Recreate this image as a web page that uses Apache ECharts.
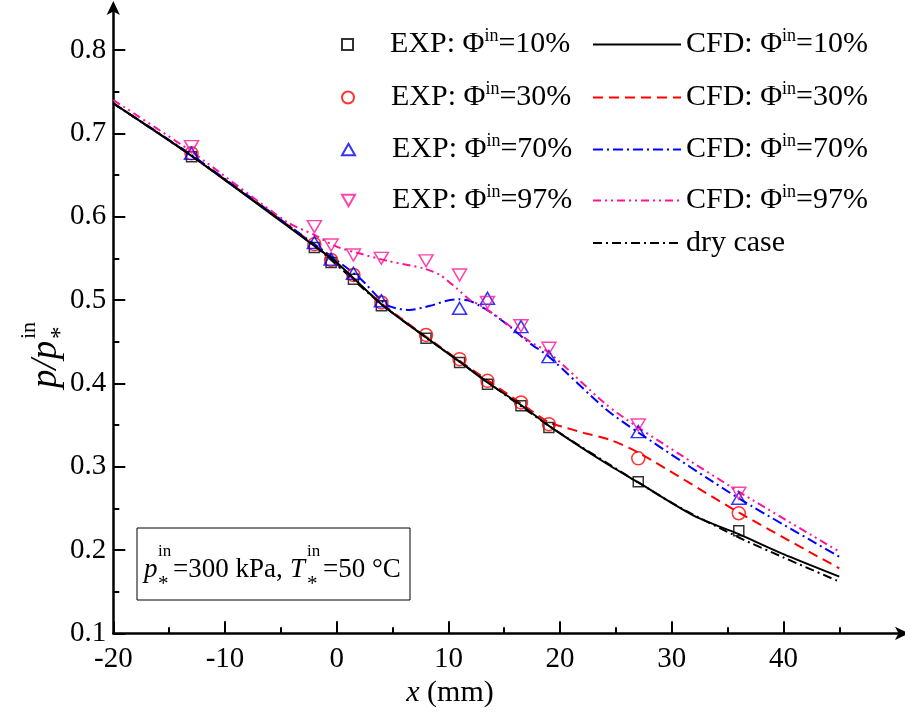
<!DOCTYPE html>
<html><head><meta charset="utf-8">
<script src="https://cdn.jsdelivr.net/npm/echarts@6/dist/echarts.min.js"></script>
<style>html,body{margin:0;padding:0;background:#fff}#c{width:905px;height:715px}</style>
</head><body><div id="c"></div>
<script>
// ---- data ----
const expX   = [-13, -2, -0.5, 1.5, 4, 8, 11, 13.5, 16.5, 19, 27, 36];
const exp10  = [0.672, 0.563, 0.545, 0.525, 0.493, 0.454, 0.425, 0.399, 0.373, 0.347, 0.282, 0.223];
const exp30  = [0.676, 0.567, 0.548, 0.530, 0.497, 0.458, 0.429, 0.403, 0.377, 0.351, 0.310, 0.244];
const exp70X = [-13, -2, -0.5, 1.5, 4, 11, 13.5, 16.5, 19, 27, 36];
const exp70  = [0.676, 0.569, 0.549, 0.532, 0.499, 0.490, 0.502, 0.468, 0.432, 0.342, 0.262];
const exp97  = [0.684, 0.588, 0.566, 0.554, 0.550, 0.547, 0.530, 0.497, 0.469, 0.442, 0.350, 0.268];

const cfd10X = [-20, -13, -2, 0, 4, 8, 11, 13.5, 16.5, 19, 24, 27, 32, 36, 40, 45];
const cfd10  = [0.736, 0.673, 0.565, 0.545, 0.495, 0.455, 0.426, 0.401, 0.374, 0.349, 0.305, 0.281, 0.241, 0.219, 0.195, 0.168];
const cfd30X = [-20, -13, -2, 4, 11, 16.5, 19, 20.2, 22, 24.5, 27, 36, 45];
const cfd30  = [0.736, 0.673, 0.566, 0.496, 0.427, 0.376, 0.353, 0.348, 0.341, 0.332, 0.317, 0.245, 0.178];
const cfd70X = [-20, -13, -2, 2, 4.5, 6.5, 8.35, 9.85, 11, 11.9, 12.8, 13.7, 15.5, 17.3, 19, 24, 27, 36, 45];
const cfd70  = [0.736, 0.674, 0.567, 0.527, 0.494, 0.488, 0.493, 0.499, 0.501, 0.499, 0.493, 0.486, 0.468, 0.448, 0.432, 0.370, 0.341, 0.262, 0.192];
const cfd97X = [-20, -13, -4.5, -2, 0, 2, 4.5, 7.75, 9.25, 10.74, 11.93, 12.8, 14.6, 17.3, 19, 24, 27, 36, 45];
const cfd97  = [0.740, 0.678, 0.594, 0.578, 0.564, 0.556, 0.547, 0.538, 0.530, 0.514, 0.500, 0.494, 0.478, 0.450, 0.437, 0.376, 0.347, 0.270, 0.198];
const dryX   = [-20, -13, -2, 4, 11, 19, 27, 31, 36, 40, 45];
const dry    = [0.736, 0.673, 0.565, 0.495, 0.426, 0.349, 0.281, 0.249, 0.215, 0.191, 0.162];

const xMajor = [-20, -10, 0, 10, 20, 30, 40];
const xMinor = [-15, -5, 5, 15, 25, 35, 45];
const yMajor = [0.1, 0.2, 0.3, 0.4, 0.5, 0.6, 0.7, 0.8];
const yMinor = [0.15, 0.25, 0.35, 0.45, 0.55, 0.65, 0.75];

const names = {
  e10: 'EXP: Φin=10%', e30: 'EXP: Φin=30%', e70: 'EXP: Φin=70%', e97: 'EXP: Φin=97%',
  c10: 'CFD: Φin=10%', c30: 'CFD: Φin=30%', c70: 'CFD: Φin=70%', c97: 'CFD: Φin=97%', dry: 'dry case'
};

// ---- helpers ----
const pair = (xs, ys) => xs.map((x, i) => [x, ys[i]]);
const FONT = 'Liberation Serif';
const invTri = 'path://M0,0 L12,0 L6,10.4 Z';
const upTri = 'path://M6,0 L12,10.4 L0,10.4 Z';

function scat(name, data, symbol, size, color) {
  return { name, type: 'scatter', data, symbol, symbolSize: size, z: 3,
    itemStyle: { color: 'rgba(255,255,255,0)', borderColor: color, borderWidth: 1.5 } };
}
function line(name, data, color, type, z) {
  return { name, type: 'line', data, showSymbol: false, symbol: 'none', smooth: 0.25, z: z || 2,
    lineStyle: { color, width: 2, type }, itemStyle: { color } };
}

const richLegend = {
  fontFamily: FONT, fontSize: 30, color: '#000',
  rich: {
    t: { fontFamily: FONT, fontSize: 30, color: '#000' },
    s: { fontFamily: FONT, fontSize: 18, color: '#000', padding: [0, 0, 17, 0] }
  }
};
function fmt(n) {
  const i = n.indexOf('Φin');
  if (i < 0) return '{t|' + n + '}';
  return '{t|' + n.slice(0, i + 1) + '}{s|in}{t|' + n.slice(i + 3) + '}';
}
function leg(name, left, top, w, h, pad, hideSym) {
  const l = { data: [name], left, top, orient: 'vertical', itemWidth: w, itemHeight: h, padding: 0,
    selectedMode: false, formatter: fmt,
    textStyle: Object.assign({}, richLegend, { padding: [0, 0, 0, pad] }) };
  if (hideSym) l.itemStyle = { color: 'rgba(0,0,0,0)', borderWidth: 0, borderColor: 'rgba(0,0,0,0)' };
  return l;
}

const rowY = [27, 80, 132, 183];
const T = (x, y, text, font) => ({ type: 'text', x, y, z: 12, style: { text, font, fill: '#000', verticalAlign: 'middle' } });
const option = {
  animation: false,
  backgroundColor: '#fff',
  grid: { left: 113.3, right: 0, top: 5, bottom: 81.7, containLabel: false },
  xAxis: [
    { type: 'value', min: -20, max: 50.88, position: 'bottom',
      axisLine: { show: true, onZero: false, lineStyle: { color: '#000', width: 2.5 }, symbol: ['none', 'arrow'], symbolSize: [10, 14], symbolOffset: [0, 4] },
      axisTick: { show: true, inside: true, length: 12, lineStyle: { color: '#000', width: 2 }, customValues: xMajor },
      axisLabel: { customValues: xMajor, margin: 12, color: '#000', fontFamily: FONT, fontSize: 29 },
      splitLine: { show: false } },
    { type: 'value', min: -20, max: 50.88, position: 'bottom',
      axisLine: { show: false, onZero: false },
      axisTick: { show: true, inside: true, length: 6, lineStyle: { color: '#000', width: 2 }, customValues: xMinor },
      axisLabel: { show: false }, splitLine: { show: false } }
  ],
  yAxis: [
    { type: 'value', min: 0.1, max: 0.854, position: 'left',
      axisLine: { show: true, onZero: false, lineStyle: { color: '#000', width: 2.5 }, symbol: ['none', 'arrow'], symbolSize: [10, 14], symbolOffset: [0, 4] },
      axisTick: { show: true, inside: true, length: 12, lineStyle: { color: '#000', width: 2 }, customValues: yMajor },
      axisLabel: { customValues: yMajor, margin: 7, color: '#000', fontFamily: FONT, fontSize: 29 },
      splitLine: { show: false } },
    { type: 'value', min: 0.1, max: 0.854, position: 'left',
      axisLine: { show: false, onZero: false },
      axisTick: { show: true, inside: true, length: 6, lineStyle: { color: '#000', width: 2 }, customValues: yMinor },
      axisLabel: { show: false }, splitLine: { show: false } }
  ],
  legend: [
    leg(names.e10, 341, rowY[0], 11, 11, 32),
    leg(names.e30, 341, rowY[1], 12, 12, 32),
    leg(names.e70, 341, rowY[2], 13, 12, 32),
    leg(names.e97, 341, rowY[3], 13, 12, 32),
    leg(names.c10, 592, rowY[0], 88, 12, 0, true),
    leg(names.c30, 592, rowY[1], 88, 12, 0, true),
    leg(names.c70, 592, rowY[2], 88, 12, 0, true),
    leg(names.c97, 592, rowY[3], 88, 12, 0, true),
    leg(names.dry, 592, 228, 88, 12, 0, true)
  ],
  series: [
    line(names.c10, pair(cfd10X, cfd10), '#000', 'solid', 4),
    line(names.c30, pair(cfd30X, cfd30), '#ff0000', [10, 6]),
    line(names.c70, pair(cfd70X, cfd70), '#0000ff', [10, 4, 2, 4]),
    line(names.c97, pair(cfd97X, cfd97), '#ff1493', [8, 4, 2, 4, 2, 4]),
    line(names.dry, pair(dryX, dry), '#000', [9, 4, 2, 4]),
    scat(names.e10, pair(expX, exp10), 'rect', 10, '#000'),
    scat(names.e30, pair(expX, exp30), 'circle', 13, '#ff0000'),
    scat(names.e70, pair(exp70X, exp70), upTri, [14, 12], '#0000ff'),
    scat(names.e97, pair(expX, exp97), invTri, [14, 12], '#ff1493')
  ],
  graphic: [
    { type: 'rect', shape: { x: 137, y: 528, width: 273, height: 72 }, style: { fill: '#fff', stroke: '#000', lineWidth: 1 }, z: 10 },
    T(144, 570, 'p', 'italic 27px "Liberation Serif"'),
    T(158, 552, 'in', '17px "Liberation Serif"'),
    T(158, 584, '*', '21px "Liberation Serif"'),
    T(173, 570, '=300 kPa, ', '27px "Liberation Serif"'),
    T(290, 570, 'T', 'italic 27px "Liberation Serif"'),
    T(307, 552, 'in', '17px "Liberation Serif"'),
    T(307, 584, '*', '21px "Liberation Serif"'),
    T(323, 570, '=50 °C', '27px "Liberation Serif"'),
    { type: 'group', x: 46, y: 388, rotation: Math.PI / 2, z: 11, children: [
      { type: 'text', x: 0, y: 0, z: 12, style: { text: 'p/p', font: 'italic 37px "Liberation Serif"', fill: '#000', verticalAlign: 'middle' } },
      { type: 'text', x: 49, y: -17, z: 12, style: { text: 'in', font: '22px "Liberation Serif"', fill: '#000', verticalAlign: 'middle' } },
      { type: 'text', x: 49, y: 15, z: 12, style: { text: '*', font: '25px "Liberation Serif"', fill: '#000', verticalAlign: 'middle' } }
    ] },
    { type: 'text', x: 450, y: 693, z: 11, style: { text: '{i|x} (mm)', align: 'center', verticalAlign: 'middle', fill: '#000',
      font: '30px "Liberation Serif"',
      rich: { i: { fontFamily: FONT, fontStyle: 'italic', fontSize: 30, fill: '#000' } } } }
  ]
};
const chart = echarts.init(document.getElementById('c'), null, { renderer: 'canvas' });
chart.setOption(option);
</script>
</body></html>
